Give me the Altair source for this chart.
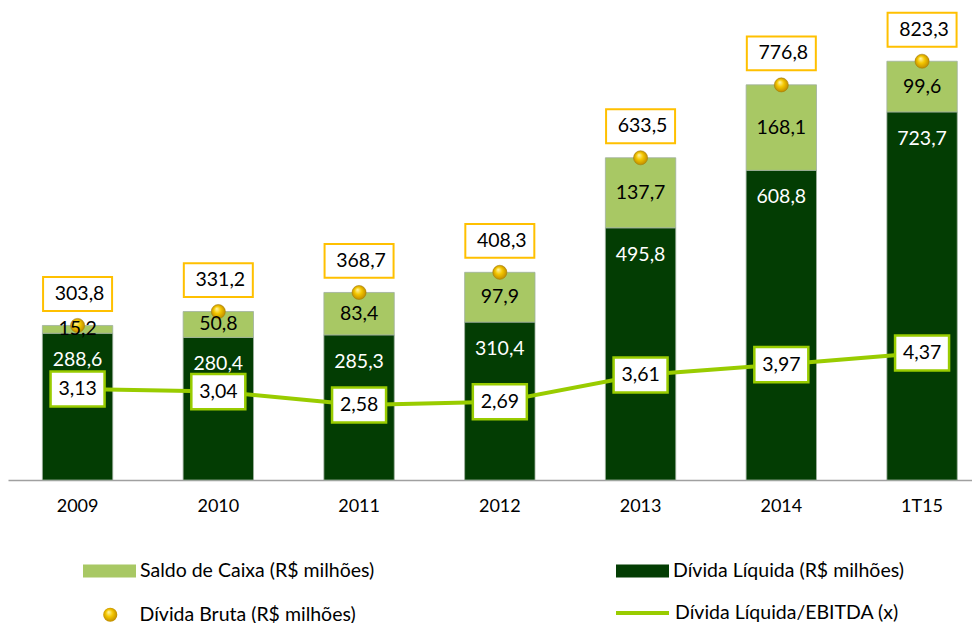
import altair as alt
import pandas as pd

periodos = ["2009", "2010", "2011", "2012", "2013", "2014", "1T15"]
divida_liquida = [288.6, 280.4, 285.3, 310.4, 495.8, 608.8, 723.7]
saldo_caixa = [15.2, 50.8, 83.4, 97.9, 137.7, 168.1, 99.6]
divida_bruta = [303.8, 331.2, 368.7, 408.3, 633.5, 776.8, 823.3]
dl_ebitda = [3.13, 3.04, 2.58, 2.69, 3.61, 3.97, 4.37]

S_SALDO = "Saldo de Caixa (R$ milhões)"
S_DL = "Dívida Líquida (R$ milhões)"
S_BRUTA = "Dívida Bruta (R$ milhões)"
S_EBITDA = "Dívida Líquida/EBITDA (x)"

DARK = "#033D03"
LIGHT = "#A8C864"
LIME = "#99CC00"
ORANGE = "#FFC000"
FONT = "Lato"
FS = 19.5
FS_AX = 18

wide = pd.DataFrame({
    "periodo": periodos,
    "dl": divida_liquida,
    "saldo": saldo_caixa,
    "bruta": divida_bruta,
    "ebitda": dl_ebitda,
})
wide["serie_bruta"] = S_BRUTA
wide["serie_ebitda"] = S_EBITDA

long = pd.concat([
    pd.DataFrame({"periodo": periodos, "serie": S_DL, "valor": divida_liquida, "ordem": 0}),
    pd.DataFrame({"periodo": periodos, "serie": S_SALDO, "valor": saldo_caixa, "ordem": 1}),
], ignore_index=True)

x_enc = alt.X(
    "periodo:N", sort=periodos,
    scale=alt.Scale(paddingInner=0.5, paddingOuter=0.1745, align=0.70),
    axis=alt.Axis(title=None, labelAngle=0, ticks=False, grid=False,
                  domainColor="#A0A0A0", domainWidth=1.5,
                  labelFont=FONT, labelFontSize=FS_AX, labelColor="#000000",
                  labelPadding=17),
)
Y1 = alt.Scale(domain=[0, 926])
Y2 = alt.Scale(domain=[0, 16.2])

bars = alt.Chart(long).mark_bar(stroke="#9FB09F", strokeWidth=0.8).encode(
    x=x_enc,
    y=alt.Y("valor:Q", stack="zero", scale=Y1, axis=None),
    color=alt.Color(
        "serie:N",
        scale=alt.Scale(domain=[S_SALDO, S_DL], range=[LIGHT, DARK]),
        legend=alt.Legend(
            title=None, orient="none", legendX=75, legendY=535.5,
            direction="horizontal", padding=0,
            symbolType="M-1,-0.245H1V0.245H-1Z", symbolSize=2809,
            symbolStrokeWidth=0, labelFont=FONT, labelFontSize=FS,
            labelColor="#000000", labelOffset=4, columnPadding=241,
            labelLimit=0,
        ),
    ),
    order=alt.Order("ordem:Q"),
)

base = alt.Chart(wide).encode(x=x_enc)

saldo_txt = base.transform_calculate(
    mid="datum.dl + datum.saldo / 2",
    lbl="replace(format(datum.saldo, '.1f'), '.', ',')",
).mark_text(font=FONT, fontSize=FS, color="#000000", baseline="middle").encode(
    y=alt.Y("mid:Q", scale=Y1, axis=None), text="lbl:N"
)

dl_txt = base.transform_calculate(
    lbl="replace(format(datum.dl, '.1f'), '.', ',')",
).mark_text(font=FONT, fontSize=FS, color="#FFFFFF", baseline="middle", dy=27).encode(
    y=alt.Y("dl:Q", scale=Y1, axis=None), text="lbl:N"
)

ball = {
    "gradient": "radial",
    "x1": 0.38, "y1": 0.3, "r1": 0.0,
    "x2": 0.5, "y2": 0.5, "r2": 0.55,
    "stops": [
        {"offset": 0.0, "color": "#FFF7B0"},
        {"offset": 0.45, "color": "#F5C800"},
        {"offset": 1.0, "color": "#B88400"},
    ],
}

points = base.mark_point(filled=True, fill=ball, stroke="#A07800", strokeWidth=0.5,
                         size=200, opacity=1).encode(
    y=alt.Y("bruta:Q", scale=Y1, axis=None),
    shape=alt.Shape(
        "serie_bruta:N", scale=alt.Scale(range=["circle"]),
        legend=alt.Legend(
            title=None, orient="none", legendX=92.5, legendY=596, padding=0,
            symbolSize=200, symbolFillColor="#F2C200", symbolStrokeColor="#A07800",
            symbolStrokeWidth=0.5, labelFont=FONT, labelFontSize=FS,
            labelColor="#000000", labelOffset=19.5, labelLimit=0,
        ),
    ),
)

tot_box = base.mark_point(shape="M-1,-0.49H1V0.49H-1Z", size=4761, filled=True,
                          fill="#FFFFFF", stroke=ORANGE, strokeWidth=2, opacity=1,
                          yOffset=-31.5).encode(
    y=alt.Y("bruta:Q", scale=Y1, axis=None)
)

tot_txt = base.transform_calculate(
    lbl="replace(format(datum.bruta, '.1f'), '.', ',')",
).mark_text(font=FONT, fontSize=FS, color="#000000", baseline="middle", dy=-31.5, dx=2).encode(
    y=alt.Y("bruta:Q", scale=Y1, axis=None), text="lbl:N"
)

primary = alt.layer(bars, points, saldo_txt, dl_txt, tot_box, tot_txt)

line = base.mark_line(strokeWidth=4).encode(
    y=alt.Y("ebitda:Q", scale=Y2, axis=None),
    stroke=alt.Stroke(
        "serie_ebitda:N", scale=alt.Scale(range=[LIME]),
        legend=alt.Legend(
            title=None, orient="none", legendX=606, legendY=575.5, padding=0,
            symbolType="stroke", symbolSize=2809, symbolStrokeWidth=4,
            labelFont=FONT, labelFontSize=FS, labelColor="#000000",
            labelOffset=4, labelLimit=0,
        ),
    ),
)

line_box = base.mark_point(shape="M-1,-0.65H1V0.65H-1Z", size=2916, filled=True,
                           fill="#FFFFFF", stroke=LIME, strokeWidth=2.5, opacity=1).encode(
    y=alt.Y("ebitda:Q", scale=Y2, axis=None)
)

line_txt = base.transform_calculate(
    lbl="replace(format(datum.ebitda, '.2f'), '.', ',')",
).mark_text(font=FONT, fontSize=FS, color="#000000", baseline="middle").encode(
    y=alt.Y("ebitda:Q", scale=Y2, axis=None), text="lbl:N"
)

secondary = alt.layer(line, line_box, line_txt)

chart = alt.layer(primary, secondary).resolve_scale(y="independent").properties(
    width=964, height=471, padding=0, background="#FFFFFF"
).configure_view(stroke=None)

chart.save("out.html", embed_options={"renderer": "svg", "actions": False})
